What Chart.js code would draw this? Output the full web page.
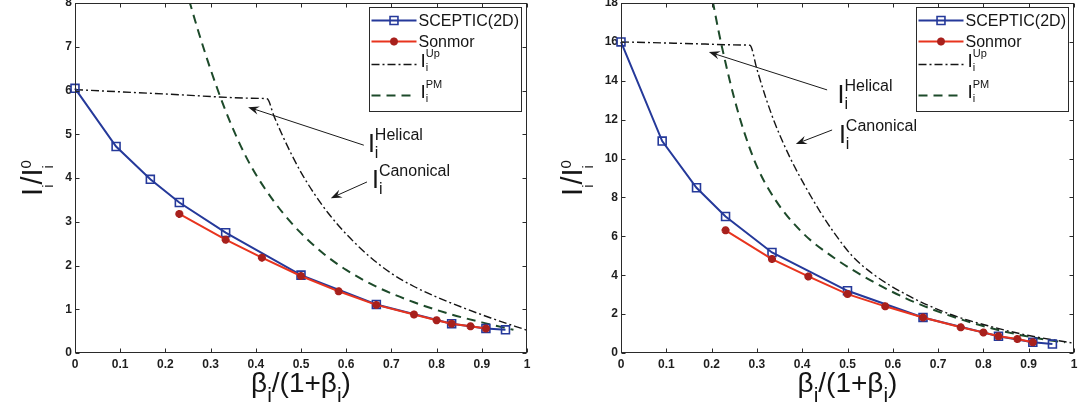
<!DOCTYPE html>
<html><head><meta charset="utf-8">
<script src="https://cdn.jsdelivr.net/npm/chart.js@4/dist/chart.umd.min.js"></script>
<style>
html,body{margin:0;padding:0;background:#fff;width:1078px;height:411px;overflow:hidden}
.pane{position:absolute;top:0}
</style></head><body>
<div class="pane" style="left:0"><canvas id="c1" width="540" height="411"></canvas></div>
<div class="pane" style="left:540px"><canvas id="c2" width="538" height="411"></canvas></div>
<script>
// ---------------- data ----------------
const xSceptic = [0, 0.0909, 0.1667, 0.2308, 0.3333, 0.5, 0.6667, 0.8333, 0.9091, 0.9524];
const xSonmor  = [0.2308, 0.3333, 0.4135, 0.5, 0.5833, 0.6667, 0.75, 0.8, 0.8333, 0.875, 0.9091];

const scepticLeft = [6.05, 4.72, 3.97, 3.44, 2.75, 1.78, 1.11, 0.67, 0.56, 0.53];
const sonmorLeft  = [3.18, 2.59, 2.18, 1.76, 1.41, 1.10, 0.88, 0.75, 0.67, 0.61, 0.56];
const upXLeft = [0, 0.2, 0.41, 0.425, 0.44, 0.46, 0.48, 0.50, 0.53, 0.56, 0.60, 0.65, 0.70, 0.75, 0.80, 0.86, 0.92, 1.0];
const upYLeft = [6.02, 5.92, 5.82, 5.81, 5.42, 4.95, 4.52, 4.13, 3.63, 3.20, 2.72, 2.22, 1.82, 1.52, 1.28, 1.03, 0.80, 0.52];
const pmXLeft = [0.2525, 0.275, 0.30, 0.33, 0.36, 0.39, 0.42, 0.46, 0.50, 0.55, 0.60, 0.67, 0.75, 0.83, 0.90, 0.97];
const pmYLeft = [8.06, 7.28, 6.48, 5.62, 4.88, 4.26, 3.76, 3.20, 2.74, 2.27, 1.90, 1.50, 1.16, 0.89, 0.70, 0.53];

const scepticRight = [16.0, 10.9, 8.5, 7.02, 5.17, 3.2, 1.83, 0.86, 0.55, 0.46];
const sonmorRight  = [6.31, 4.83, 3.94, 3.03, 2.4, 1.83, 1.32, 1.06, 0.86, 0.72, 0.55];
const upXRight = [0, 0.14, 0.275, 0.2845, 0.30, 0.32, 0.34, 0.37, 0.40, 0.44, 0.47, 0.51, 0.56, 0.63, 0.72, 0.81, 0.90, 1.0];
const upYRight = [16.0, 15.92, 15.84, 15.83, 14.6, 13.1, 11.8, 10.2, 8.85, 7.25, 6.2, 5.0, 4.0, 3.0, 2.05, 1.4, 0.9, 0.5];
const pmXRight = [0.2025, 0.215, 0.23, 0.25, 0.27, 0.30, 0.34, 0.40, 0.47, 0.55, 0.63, 0.71, 0.79, 0.87, 0.94, 0.98];
const pmYRight = [18.1, 16.6, 15.0, 13.1, 11.5, 9.6, 7.9, 6.2, 4.9, 3.75, 2.8, 2.05, 1.45, 0.98, 0.68, 0.55];

const xTickLabels = ['0','0.1','0.2','0.3','0.4','0.5','0.6','0.7','0.8','0.9','1'];
const yTickLabelsLeft = ['0','1','2','3','4','5','6','7','8'];
const yTickLabelsRight = ['0','2','4','6','8','10','12','14','16','18'];

const legendLabels = ['SCEPTIC(2D)', 'Sonmor'];

// annotation anchors in data units
const annotLeft = [
  {sup:'Helical', from:[0.639, 4.75], to:[0.383, 5.62], at:[0.648, 4.59]},
  {sup:'Canonical', from:[0.646, 3.91], to:[0.566, 3.54], at:[0.657, 3.77]}
];
const annotRight = [
  {sup:'Helical', from:[0.455, 13.53], to:[0.194, 15.48], at:[0.478, 12.86]},
  {sup:'Canonical', from:[0.466, 11.47], to:[0.386, 10.75], at:[0.481, 10.8]}
];

// ---------------- styles ----------------
const FONT = '"Liberation Sans", Arial, Helvetica, sans-serif';
const BLUE = '#25399a';
const RED = '#e8341e';
const RED_DK = '#a8201c';
const GREEN = '#1d4a2a';
const BLACK = '#151515';
const AXIS = '#2a2a2a';

function pts(xs, ys){ return xs.map((x,i)=>({x:x, y:ys[i]})); }

function drawParts(ctx, x, y, parts){
  let cx = x;
  for (const p of parts){
    const group = Array.isArray(p) ? p : [p];
    let w = 0;
    for (const g of group){
      ctx.font = (g.b ? 'bold ' : '') + g.s + 'px ' + FONT;
      ctx.fillText(g.t, cx, y + (g.dy||0));
      w = Math.max(w, ctx.measureText(g.t).width);
    }
    cx += w;
  }
  return cx - x;
}
function measureParts(ctx, parts){
  let tot = 0;
  for (const p of parts){
    const group = Array.isArray(p) ? p : [p];
    let w = 0;
    for (const g of group){ ctx.font = g.s + 'px ' + FONT; w = Math.max(w, ctx.measureText(g.t).width); }
    tot += w;
  }
  return tot;
}

function arrow(ctx, x1, y1, x2, y2){
  ctx.save();
  ctx.strokeStyle = '#1a1a1a'; ctx.fillStyle = '#1a1a1a'; ctx.lineWidth = 1;
  const a = Math.atan2(y2-y1, x2-x1), L = 11, W = 4.2;
  const bx = x2 - Math.cos(a)*L, by = y2 - Math.sin(a)*L;
  const nx = x2 - Math.cos(a)*L*0.65, ny = y2 - Math.sin(a)*L*0.65;
  ctx.beginPath(); ctx.moveTo(x1, y1); ctx.lineTo(nx, ny); ctx.stroke();
  ctx.beginPath();
  ctx.moveTo(x2, y2);
  ctx.lineTo(bx + Math.sin(a)*W, by - Math.cos(a)*W);
  ctx.lineTo(nx, ny);
  ctx.lineTo(bx - Math.sin(a)*W, by + Math.cos(a)*W);
  ctx.closePath(); ctx.fill();
  ctx.restore();
}

const origDrawPoint = Chart.helpers.drawPoint;

const decorPlugin = {
  id: 'decor',
  afterDraw(chart, args, opts){
    const ctx = chart.ctx, ca = chart.chartArea;
    const xs = chart.scales.x, ys = chart.scales.y;
    ctx.save();
    // frame + inward ticks on all sides
    ctx.strokeStyle = AXIS; ctx.lineWidth = 1;
    const L = Math.round(ca.left)+0.5, R = Math.round(ca.right)-0.5, T = Math.round(ca.top)+0.5, B = Math.round(ca.bottom)-0.5;
    ctx.strokeRect(L, T, R-L, B-T);
    const tl = 4;
    ctx.beginPath();
    xs.ticks.forEach(t => {
      const px = Math.round(xs.getPixelForValue(t.value))+0.5;
      ctx.moveTo(px, B); ctx.lineTo(px, B-tl);
      ctx.moveTo(px, T); ctx.lineTo(px, T+tl);
    });
    ys.ticks.forEach(t => {
      const py = Math.round(ys.getPixelForValue(t.value))+0.5;
      ctx.moveTo(L, py); ctx.lineTo(L+tl, py);
      ctx.moveTo(R, py); ctx.lineTo(R-tl, py);
    });
    ctx.stroke();

    // annotations
    ctx.fillStyle = BLACK;
    ctx.textBaseline = 'alphabetic'; ctx.textAlign = 'left';
    for (const an of opts.annotations){
      arrow(ctx, xs.getPixelForValue(an.from[0]), ys.getPixelForValue(an.from[1]),
                 xs.getPixelForValue(an.to[0]), ys.getPixelForValue(an.to[1]));
      const px = xs.getPixelForValue(an.at[0]), py = ys.getPixelForValue(an.at[1]);
      drawParts(ctx, px, py, [{t:'I', s:25}, [{t:an.sup, s:16, dy:-12}, {t:'i', s:16, dy:6}]]);
    }

    // legend
    const lw = 152, lh = 104;
    const lx = Math.round(ca.right - 6 - lw)+0.5, ly = Math.round(ca.top + 4)+0.5;
    ctx.fillStyle = '#fff'; ctx.fillRect(lx, ly, lw, lh);
    ctx.strokeStyle = AXIS; ctx.lineWidth = 1; ctx.strokeRect(lx, ly, lw, lh);
    const sx0 = lx + 2, sx1 = lx + 47, tx = lx + 49;
    const ds = chart.data.datasets;
    const rows = [
      {d: ds[1], y: ly + 13, text: legendLabels[0]},
      {d: ds[0], y: ly + 34, text: legendLabels[1]}
    ];
    for (const r of rows){
      ctx.save();
      ctx.strokeStyle = r.d.borderColor; ctx.lineWidth = r.d.borderWidth;
      ctx.beginPath(); ctx.moveTo(sx0, r.y); ctx.lineTo(sx1, r.y); ctx.stroke();
      ctx.strokeStyle = r.d.pointBorderColor; ctx.fillStyle = r.d.pointBackgroundColor; ctx.lineWidth = r.d.pointBorderWidth;
      origDrawPoint(ctx, {pointStyle: r.d.pointStyle, radius: r.d.pointRadius, borderWidth: r.d.pointBorderWidth, rotation: 0},
        (sx0+sx1)/2, r.y);
      ctx.restore();
      ctx.save();
      ctx.fillStyle = BLACK; ctx.font = '16px ' + FONT; ctx.textBaseline = 'middle';
      ctx.fillText(r.text, tx, r.y + 1);
      ctx.restore();
    }
    const curveRows = [
      {d: ds[2], y: ly + 57, sup: 'Up'},
      {d: ds[3], y: ly + 88, sup: 'PM'}
    ];
    for (const r of curveRows){
      ctx.save();
      ctx.strokeStyle = r.d.borderColor; ctx.lineWidth = r.d.borderWidth;
      ctx.setLineDash(r.d.borderDash);
      ctx.beginPath(); ctx.moveTo(sx0, r.y); ctx.lineTo(sx1, r.y); ctx.stroke();
      ctx.restore();
      ctx.fillStyle = BLACK; ctx.textBaseline = 'alphabetic';
      drawParts(ctx, tx + 2, r.y + 2, [{t:'I', s:19}, [{t:r.sup, s:11, dy:-10}, {t:'i', s:11, dy:4}]]);
    }

    // axis titles
    ctx.fillStyle = BLACK; ctx.textBaseline = 'alphabetic';
    const xt = [{t:'\u03b2', s:28}, {t:'i', s:21, dy:10}, {t:'/(', s:28}, {t:'1+\u03b2', s:28}, {t:'i', s:21, dy:10}, {t:')', s:28}];
    const xw = measureParts(ctx, xt);
    drawParts(ctx, (ca.left + ca.right)/2 - xw/2, 392, xt);

    const yt = [{t:'I', s:29}, {t:'i', s:15, dy:11}, {t:'/I', s:29}, [{t:'i', s:15, dy:11}, {t:'0', s:15, dy:-11}]];
    const yw = measureParts(ctx, yt);
    ctx.save();
    ctx.translate(opts.yTitleX, (ca.top + ca.bottom)/2);
    ctx.rotate(-Math.PI/2);
    drawParts(ctx, -yw/2, 0, yt);
    ctx.restore();

    ctx.restore();
  }
};

function makeChart(id, cfg){
  return new Chart(document.getElementById(id), {
    type: 'line',
    data: { datasets: [
      { label: legendLabels[1], data: pts(xSonmor, cfg.sonmor), borderColor: RED, borderWidth: 2,
        pointStyle: 'star', pointRadius: 4, pointBorderWidth: 2.6, pointBorderColor: RED_DK, pointBackgroundColor: RED_DK,
        order: 0, tension: 0, clip: 6 },
      { label: legendLabels[0], data: pts(xSceptic, cfg.sceptic), borderColor: BLUE, borderWidth: 2,
        pointStyle: 'rect', pointRadius: 5.6, pointBorderWidth: 1.6, pointBorderColor: BLUE, pointBackgroundColor: 'rgba(255,255,255,0)',
        order: 1, tension: 0, clip: 6 },
      { label: 'Up', data: pts(cfg.upX, cfg.upY), borderColor: BLACK, borderWidth: 1.4, borderDash: [8,3,2,3],
        pointRadius: 0, cubicInterpolationMode: 'monotone', order: 2, clip: 0 },
      { label: 'PM', data: pts(cfg.pmX, cfg.pmY), borderColor: GREEN, borderWidth: 2, borderDash: [9,6],
        pointRadius: 0, cubicInterpolationMode: 'monotone', order: 3, clip: 0 }
    ]},
    options: {
      responsive: false, animation: false, devicePixelRatio: 1,
      layout: { autoPadding: false, padding: { left: 0, right: cfg.padRight, top: 3, bottom: 0 } },
      plugins: { legend: { display: false }, tooltip: { enabled: false },
        decor: { annotations: cfg.annotations, yTitleX: 42 } },
      scales: {
        x: { type: 'linear', min: 0, max: 1,
          grid: { display: false, drawTicks: false }, border: { display: false },
          ticks: { stepSize: 0.1, autoSkip: false, maxRotation: 0, padding: 4, color: '#1e1e1e',
            font: { family: FONT, size: 12, weight: 'bold' },
            callback: (v, i) => xTickLabels[i] },
          afterFit(s){ s.height = 58; s.paddingLeft = 0; s.paddingRight = 0; } },
        y: { type: 'linear', min: 0, max: cfg.yMax,
          grid: { display: false, drawTicks: false }, border: { display: false },
          ticks: { stepSize: cfg.yStep, autoSkip: false, padding: 3, color: '#1e1e1e',
            font: { family: FONT, size: 12, weight: 'bold' },
            callback: (v, i) => cfg.yLabels[i] },
          afterFit(s){ s.width = cfg.yAxisW; s.paddingTop = 0; s.paddingBottom = 0; } }
      }
    },
    plugins: [decorPlugin]
  });
}

makeChart('c1', { sceptic: scepticLeft, sonmor: sonmorLeft, upX: upXLeft, upY: upYLeft, pmX: pmXLeft, pmY: pmYLeft,
  yMax: 8, yStep: 1, yLabels: yTickLabelsLeft, yAxisW: 75, padRight: 13, annotations: annotLeft });
makeChart('c2', { sceptic: scepticRight, sonmor: sonmorRight, upX: upXRight, upY: upYRight, pmX: pmXRight, pmY: pmYRight,
  yMax: 18, yStep: 2, yLabels: yTickLabelsRight, yAxisW: 81, padRight: 4, annotations: annotRight });
</script>
</body></html>
